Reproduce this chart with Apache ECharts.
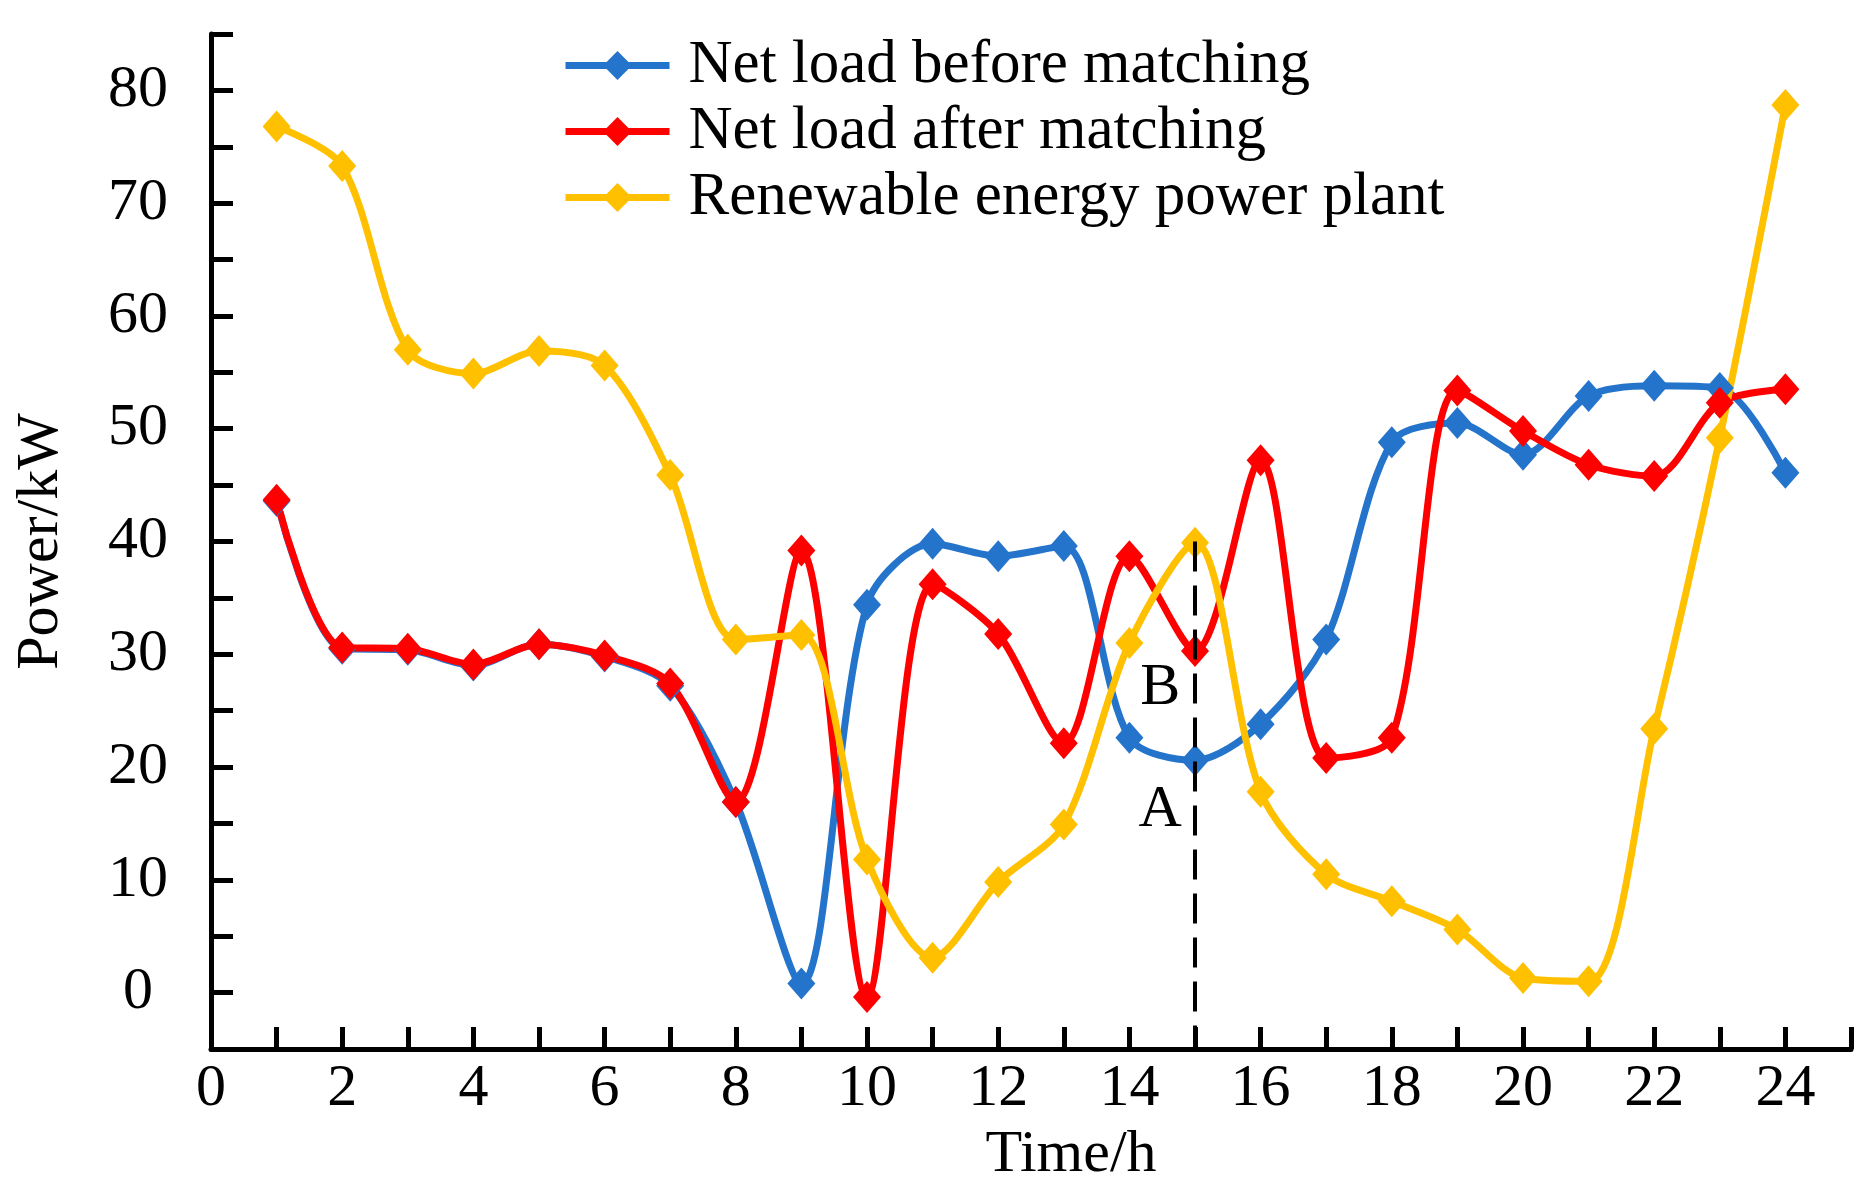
<!DOCTYPE html>
<html>
<head>
<meta charset="utf-8">
<script src="https://cdn.jsdelivr.net/npm/echarts@6/dist/echarts.min.js"></script>
<style>html,body{margin:0;padding:0;background:#fff;}#c{width:1873px;height:1193px;}</style>
</head>
<body>
<div id="c"></div>
<script>
var hours = [1,2,3,4,5,6,7,8,9,10,11,12,13,14,15,16,17,18,19,20,21,22,23,24];
var netBefore = [43.6,30.5,30.4,29.0,30.9,29.8,27.2,16.9,0.8,34.4,39.8,38.7,39.6,22.6,20.6,23.8,31.3,48.8,50.5,47.7,52.9,53.8,53.6,46.1];
var netAfter = [43.7,30.6,30.5,29.1,30.9,29.9,27.4,16.9,39.2,-0.4,36.2,31.8,22.1,38.7,30.3,47.2,20.8,22.6,53.4,49.8,46.8,45.8,52.3,53.5];
var renewable = [76.8,73.3,57.0,54.9,56.9,55.6,45.9,31.3,31.7,11.8,3.1,9.8,14.9,31.0,39.9,17.8,10.5,8.1,5.6,1.3,1.0,23.4,49.2,78.7];
var seriesNames = ['Net load before matching','Net load after matching','Renewable energy power plant'];
var yTickLabels = [0,10,20,30,40,50,60,70,80];
var xTickLabels = [0,2,4,6,8,10,12,14,16,18,20,22,24];

function pairs(arr){ return hours.map(function(h,i){ return [h, arr[i]]; }); }

var FONT = 'Liberation Serif';
var chart = echarts.init(document.getElementById('c'));
function lineSeries(name, data, color){
  return {
    name: name, type: 'line', data: pairs(data), smooth: 0.3,
    symbol: 'diamond', symbolSize: [28, 32],
    lineStyle: {color: color, width: 7},
    itemStyle: {color: color},
    z: 3
  };
}
var s3 = lineSeries(seriesNames[2], renewable, '#FFC000');
s3.markLine = {
  silent: true, symbol: 'none',
  lineStyle: {color: '#000', width: 4, type: [30, 14]},
  label: {show: false},
  data: [[{coord: [15, 40]}, {coord: [15, -5]}]]
};
s3.markPoint = {
  silent: true, symbol: 'circle', symbolSize: 1,
  itemStyle: {color: 'rgba(0,0,0,0)'},
  label: {show: true, position: 'inside', formatter: '{b}', color: '#000', fontFamily: FONT, fontSize: 60},
  data: [{name: 'B', coord: [14.47, 27.0]}, {name: 'A', coord: [14.47, 16.2]}]
};
var option = {
  backgroundColor: '#fff',
  animation: false,
  textStyle: {fontFamily: FONT, color: '#000'},
  grid: {left: 211, right: 22, top: 34, bottom: 144},
  legend: {
    orient: 'vertical', left: 557, top: 30,
    itemWidth: 104, itemHeight: 36, itemGap: 5,
    data: seriesNames,
    lineStyle: {width: 7},
    textStyle: {fontFamily: FONT, fontSize: 61, lineHeight: 58, color: '#000', padding: [0,0,0,14]}
  },
  xAxis: {
    type: 'value', min: 0, max: 25, interval: 1,
    name: 'Time/h', nameLocation: 'middle', nameGap: 76,
    nameTextStyle: {fontFamily: FONT, fontSize: 60, color: '#000', padding: [0,0,0,80]},
    axisLine: {onZero: false, lineStyle: {color: '#000', width: 5}},
    axisTick: {inside: true, length: 22, lineStyle: {color: '#000', width: 5}},
    axisLabel: {fontFamily: FONT, fontSize: 60, color: '#000', margin: 10,
      formatter: function(v){ return xTickLabels.indexOf(v) >= 0 ? String(v) : ''; }},
    splitLine: {show: false}
  },
  yAxis: {
    type: 'value', min: -5, max: 85, interval: 5,
    name: 'Power/kW', nameLocation: 'middle', nameGap: 140,
    nameTextStyle: {fontFamily: FONT, fontSize: 60, color: '#000'},
    axisLine: {show: true, onZero: false, lineStyle: {color: '#000', width: 5}},
    axisTick: {show: true, inside: true, length: 22, lineStyle: {color: '#000', width: 5}},
    axisLabel: {fontFamily: FONT, fontSize: 60, color: '#000', margin: 73, align: 'center',
      formatter: function(v){ return yTickLabels.indexOf(v) >= 0 ? String(v) : ''; }},
    splitLine: {show: false}
  },
  series: [
    lineSeries(seriesNames[0], netBefore, '#2474CB'),
    lineSeries(seriesNames[1], netAfter, '#FF0000'),
    s3
  ]
};
chart.setOption(option);
</script>
</body>
</html>
